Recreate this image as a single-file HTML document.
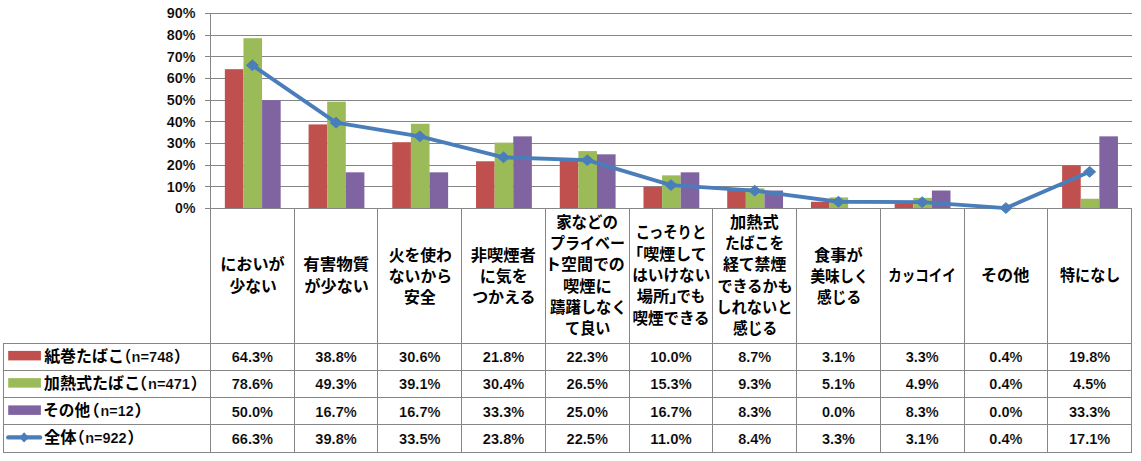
<!DOCTYPE html>
<html lang="ja"><head><meta charset="utf-8"><title>chart</title>
<style>html,body{margin:0;padding:0;background:#fff}body{width:1141px;height:461px;overflow:hidden;font-family:"Liberation Sans",sans-serif}svg{display:block}</style>
</head><body><svg width="1141" height="461" viewBox="0 0 1141 461" role="img" aria-label="chart">
<rect width="1141" height="461" fill="#fff"/>
<g stroke="#868686" stroke-width="1" fill="none" shape-rendering="crispEdges">
<line x1="205.00" y1="208.50" x2="1132.00" y2="208.50"/>
<line x1="205.00" y1="186.83" x2="1132.00" y2="186.83"/>
<line x1="205.00" y1="165.17" x2="1132.00" y2="165.17"/>
<line x1="205.00" y1="143.50" x2="1132.00" y2="143.50"/>
<line x1="205.00" y1="121.83" x2="1132.00" y2="121.83"/>
<line x1="205.00" y1="100.17" x2="1132.00" y2="100.17"/>
<line x1="205.00" y1="78.50" x2="1132.00" y2="78.50"/>
<line x1="205.00" y1="56.83" x2="1132.00" y2="56.83"/>
<line x1="205.00" y1="35.17" x2="1132.00" y2="35.17"/>
<line x1="205.00" y1="13.50" x2="1132.00" y2="13.50"/>
</g>
<g>
<rect x="224.85" y="69.18" width="18.61" height="139.32" fill="#C0504D"/>
<rect x="243.46" y="38.20" width="18.61" height="170.30" fill="#9BBB59"/>
<rect x="262.07" y="100.17" width="18.61" height="108.33" fill="#8064A2"/>
<rect x="308.58" y="124.43" width="18.61" height="84.07" fill="#C0504D"/>
<rect x="327.19" y="101.68" width="18.61" height="106.82" fill="#9BBB59"/>
<rect x="345.79" y="172.32" width="18.61" height="36.18" fill="#8064A2"/>
<rect x="392.31" y="142.20" width="18.61" height="66.30" fill="#C0504D"/>
<rect x="410.92" y="123.78" width="18.61" height="84.72" fill="#9BBB59"/>
<rect x="429.52" y="172.32" width="18.61" height="36.18" fill="#8064A2"/>
<rect x="476.04" y="161.27" width="18.61" height="47.23" fill="#C0504D"/>
<rect x="494.64" y="142.63" width="18.61" height="65.87" fill="#9BBB59"/>
<rect x="513.25" y="136.35" width="18.61" height="72.15" fill="#8064A2"/>
<rect x="559.76" y="160.18" width="18.61" height="48.32" fill="#C0504D"/>
<rect x="578.37" y="151.08" width="18.61" height="57.42" fill="#9BBB59"/>
<rect x="596.98" y="154.33" width="18.61" height="54.17" fill="#8064A2"/>
<rect x="643.49" y="186.83" width="18.61" height="21.67" fill="#C0504D"/>
<rect x="662.10" y="175.35" width="18.61" height="33.15" fill="#9BBB59"/>
<rect x="680.70" y="172.32" width="18.61" height="36.18" fill="#8064A2"/>
<rect x="727.22" y="189.65" width="18.61" height="18.85" fill="#C0504D"/>
<rect x="745.82" y="188.35" width="18.61" height="20.15" fill="#9BBB59"/>
<rect x="764.43" y="190.52" width="18.61" height="17.98" fill="#8064A2"/>
<rect x="810.95" y="201.78" width="18.61" height="6.72" fill="#C0504D"/>
<rect x="829.55" y="197.45" width="18.61" height="11.05" fill="#9BBB59"/>
<rect x="894.67" y="201.35" width="18.61" height="7.15" fill="#C0504D"/>
<rect x="913.28" y="197.88" width="18.61" height="10.62" fill="#9BBB59"/>
<rect x="931.88" y="190.52" width="18.61" height="17.98" fill="#8064A2"/>
<rect x="978.40" y="207.63" width="18.61" height="0.87" fill="#C0504D"/>
<rect x="997.01" y="207.63" width="18.61" height="0.87" fill="#9BBB59"/>
<rect x="1062.13" y="165.60" width="18.61" height="42.90" fill="#C0504D"/>
<rect x="1080.73" y="198.75" width="18.61" height="9.75" fill="#9BBB59"/>
<rect x="1099.34" y="136.35" width="18.61" height="72.15" fill="#8064A2"/>
</g>
<g stroke="#868686" stroke-width="1" fill="none" shape-rendering="crispEdges">
<line x1="210.50" y1="13.00" x2="210.50" y2="452.50"/>
<line x1="294.23" y1="208.50" x2="294.23" y2="452.50"/>
<line x1="377.95" y1="208.50" x2="377.95" y2="452.50"/>
<line x1="461.68" y1="208.50" x2="461.68" y2="452.50"/>
<line x1="545.41" y1="208.50" x2="545.41" y2="452.50"/>
<line x1="629.14" y1="208.50" x2="629.14" y2="452.50"/>
<line x1="712.86" y1="208.50" x2="712.86" y2="452.50"/>
<line x1="796.59" y1="208.50" x2="796.59" y2="452.50"/>
<line x1="880.32" y1="208.50" x2="880.32" y2="452.50"/>
<line x1="964.05" y1="208.50" x2="964.05" y2="452.50"/>
<line x1="1047.77" y1="208.50" x2="1047.77" y2="452.50"/>
<line x1="1131.50" y1="208.50" x2="1131.50" y2="452.50"/>
<line x1="3.5" y1="342.50" x2="3.5" y2="452.50"/>
<line x1="3" y1="343.00" x2="1132.00" y2="343.00"/>
<line x1="3" y1="370.25" x2="1132.00" y2="370.25"/>
<line x1="3" y1="397.50" x2="1132.00" y2="397.50"/>
<line x1="3" y1="424.75" x2="1132.00" y2="424.75"/>
<line x1="3" y1="452.00" x2="1132.00" y2="452.00"/>
<line x1="205.00" y1="208.50" x2="1132.00" y2="208.50"/>
</g>
<polyline points="252.36,65.25 336.09,122.67 419.82,136.32 503.55,157.33 587.27,160.15 671.00,185.07 754.73,190.70 838.45,201.75 922.18,202.18 1005.91,208.03 1089.64,171.85" fill="none" stroke="#4A7EBB" stroke-width="3.8" stroke-linejoin="round" stroke-linecap="round"/>
<path d="M246.36 65.25L252.36 59.85L258.36 65.25L252.36 70.65Z" fill="#4A7EBB" stroke="#4A7EBB" stroke-width="1" stroke-linejoin="round"/>
<path d="M330.09 122.67L336.09 117.27L342.09 122.67L336.09 128.07Z" fill="#4A7EBB" stroke="#4A7EBB" stroke-width="1" stroke-linejoin="round"/>
<path d="M413.82 136.32L419.82 130.92L425.82 136.32L419.82 141.72Z" fill="#4A7EBB" stroke="#4A7EBB" stroke-width="1" stroke-linejoin="round"/>
<path d="M497.55 157.33L503.55 151.93L509.55 157.33L503.55 162.73Z" fill="#4A7EBB" stroke="#4A7EBB" stroke-width="1" stroke-linejoin="round"/>
<path d="M581.27 160.15L587.27 154.75L593.27 160.15L587.27 165.55Z" fill="#4A7EBB" stroke="#4A7EBB" stroke-width="1" stroke-linejoin="round"/>
<path d="M665.00 185.07L671.00 179.67L677.00 185.07L671.00 190.47Z" fill="#4A7EBB" stroke="#4A7EBB" stroke-width="1" stroke-linejoin="round"/>
<path d="M748.73 190.70L754.73 185.30L760.73 190.70L754.73 196.10Z" fill="#4A7EBB" stroke="#4A7EBB" stroke-width="1" stroke-linejoin="round"/>
<path d="M832.45 201.75L838.45 196.35L844.45 201.75L838.45 207.15Z" fill="#4A7EBB" stroke="#4A7EBB" stroke-width="1" stroke-linejoin="round"/>
<path d="M916.18 202.18L922.18 196.78L928.18 202.18L922.18 207.58Z" fill="#4A7EBB" stroke="#4A7EBB" stroke-width="1" stroke-linejoin="round"/>
<path d="M999.91 208.03L1005.91 202.63L1011.91 208.03L1005.91 213.43Z" fill="#4A7EBB" stroke="#4A7EBB" stroke-width="1" stroke-linejoin="round"/>
<path d="M1083.64 171.85L1089.64 166.45L1095.64 171.85L1089.64 177.25Z" fill="#4A7EBB" stroke="#4A7EBB" stroke-width="1" stroke-linejoin="round"/>
<rect x="8.2" y="350.90" width="32.7" height="9.5" fill="#C0504D"/>
<rect x="8.2" y="378.15" width="32.7" height="9.5" fill="#9BBB59"/>
<rect x="8.2" y="405.40" width="32.7" height="9.5" fill="#8064A2"/>
<line x1="8.3" y1="437.40" x2="40.1" y2="437.40" stroke="#4A7EBB" stroke-width="4.4" stroke-linecap="round"/>
<path d="M19.30 437.40L24.10 432.20L28.90 437.40L24.10 442.60Z" fill="#4A7EBB"/>
<g font-family="'Liberation Sans', sans-serif" font-weight="bold" font-size="14.10" fill="#000" stroke="#fff" stroke-width="0.15">
<text x="175.07" y="213.20" textLength="20.33" lengthAdjust="spacingAndGlyphs">0%</text>
<text x="166.73" y="191.53" textLength="28.67" lengthAdjust="spacingAndGlyphs">10%</text>
<text x="166.73" y="169.87" textLength="28.67" lengthAdjust="spacingAndGlyphs">20%</text>
<text x="166.73" y="148.20" textLength="28.67" lengthAdjust="spacingAndGlyphs">30%</text>
<text x="166.73" y="126.53" textLength="28.67" lengthAdjust="spacingAndGlyphs">40%</text>
<text x="166.73" y="104.87" textLength="28.67" lengthAdjust="spacingAndGlyphs">50%</text>
<text x="166.73" y="83.20" textLength="28.67" lengthAdjust="spacingAndGlyphs">60%</text>
<text x="166.73" y="61.53" textLength="28.67" lengthAdjust="spacingAndGlyphs">70%</text>
<text x="166.73" y="39.87" textLength="28.67" lengthAdjust="spacingAndGlyphs">80%</text>
<text x="166.73" y="18.20" textLength="28.67" lengthAdjust="spacingAndGlyphs">90%</text>
<text x="231.67" y="362.00" textLength="41.39" lengthAdjust="spacingAndGlyphs">64.3%</text>
<text x="315.39" y="362.00" textLength="41.39" lengthAdjust="spacingAndGlyphs">38.8%</text>
<text x="399.12" y="362.00" textLength="41.39" lengthAdjust="spacingAndGlyphs">30.6%</text>
<text x="482.85" y="362.00" textLength="41.39" lengthAdjust="spacingAndGlyphs">21.8%</text>
<text x="566.58" y="362.00" textLength="41.39" lengthAdjust="spacingAndGlyphs">22.3%</text>
<text x="650.30" y="362.00" textLength="41.39" lengthAdjust="spacingAndGlyphs">10.0%</text>
<text x="738.20" y="362.00" textLength="33.06" lengthAdjust="spacingAndGlyphs">8.7%</text>
<text x="821.93" y="362.00" textLength="33.06" lengthAdjust="spacingAndGlyphs">3.1%</text>
<text x="905.65" y="362.00" textLength="33.06" lengthAdjust="spacingAndGlyphs">3.3%</text>
<text x="989.38" y="362.00" textLength="33.06" lengthAdjust="spacingAndGlyphs">0.4%</text>
<text x="1068.94" y="362.00" textLength="41.39" lengthAdjust="spacingAndGlyphs">19.8%</text>
<text x="231.67" y="389.25" textLength="41.39" lengthAdjust="spacingAndGlyphs">78.6%</text>
<text x="315.39" y="389.25" textLength="41.39" lengthAdjust="spacingAndGlyphs">49.3%</text>
<text x="399.12" y="389.25" textLength="41.39" lengthAdjust="spacingAndGlyphs">39.1%</text>
<text x="482.85" y="389.25" textLength="41.39" lengthAdjust="spacingAndGlyphs">30.4%</text>
<text x="566.58" y="389.25" textLength="41.39" lengthAdjust="spacingAndGlyphs">26.5%</text>
<text x="650.30" y="389.25" textLength="41.39" lengthAdjust="spacingAndGlyphs">15.3%</text>
<text x="738.20" y="389.25" textLength="33.06" lengthAdjust="spacingAndGlyphs">9.3%</text>
<text x="821.93" y="389.25" textLength="33.06" lengthAdjust="spacingAndGlyphs">5.1%</text>
<text x="905.65" y="389.25" textLength="33.06" lengthAdjust="spacingAndGlyphs">4.9%</text>
<text x="989.38" y="389.25" textLength="33.06" lengthAdjust="spacingAndGlyphs">0.4%</text>
<text x="1073.11" y="389.25" textLength="33.06" lengthAdjust="spacingAndGlyphs">4.5%</text>
<text x="231.67" y="416.50" textLength="41.39" lengthAdjust="spacingAndGlyphs">50.0%</text>
<text x="315.39" y="416.50" textLength="41.39" lengthAdjust="spacingAndGlyphs">16.7%</text>
<text x="399.12" y="416.50" textLength="41.39" lengthAdjust="spacingAndGlyphs">16.7%</text>
<text x="482.85" y="416.50" textLength="41.39" lengthAdjust="spacingAndGlyphs">33.3%</text>
<text x="566.58" y="416.50" textLength="41.39" lengthAdjust="spacingAndGlyphs">25.0%</text>
<text x="650.30" y="416.50" textLength="41.39" lengthAdjust="spacingAndGlyphs">16.7%</text>
<text x="738.20" y="416.50" textLength="33.06" lengthAdjust="spacingAndGlyphs">8.3%</text>
<text x="821.93" y="416.50" textLength="33.06" lengthAdjust="spacingAndGlyphs">0.0%</text>
<text x="905.65" y="416.50" textLength="33.06" lengthAdjust="spacingAndGlyphs">8.3%</text>
<text x="989.38" y="416.50" textLength="33.06" lengthAdjust="spacingAndGlyphs">0.0%</text>
<text x="1068.94" y="416.50" textLength="41.39" lengthAdjust="spacingAndGlyphs">33.3%</text>
<text x="231.67" y="443.75" textLength="41.39" lengthAdjust="spacingAndGlyphs">66.3%</text>
<text x="315.39" y="443.75" textLength="41.39" lengthAdjust="spacingAndGlyphs">39.8%</text>
<text x="399.12" y="443.75" textLength="41.39" lengthAdjust="spacingAndGlyphs">33.5%</text>
<text x="482.85" y="443.75" textLength="41.39" lengthAdjust="spacingAndGlyphs">23.8%</text>
<text x="566.58" y="443.75" textLength="41.39" lengthAdjust="spacingAndGlyphs">22.5%</text>
<text x="650.30" y="443.75" textLength="41.39" lengthAdjust="spacingAndGlyphs">11.0%</text>
<text x="738.20" y="443.75" textLength="33.06" lengthAdjust="spacingAndGlyphs">8.4%</text>
<text x="821.93" y="443.75" textLength="33.06" lengthAdjust="spacingAndGlyphs">3.3%</text>
<text x="905.65" y="443.75" textLength="33.06" lengthAdjust="spacingAndGlyphs">3.1%</text>
<text x="989.38" y="443.75" textLength="33.06" lengthAdjust="spacingAndGlyphs">0.4%</text>
<text x="1068.94" y="443.75" textLength="41.39" lengthAdjust="spacingAndGlyphs">17.1%</text>
<text x="131.60" y="361.60" textLength="41.80" lengthAdjust="spacingAndGlyphs">n=748</text>
<text x="148.10" y="388.85" textLength="41.90" lengthAdjust="spacingAndGlyphs">n=471</text>
<text x="100.60" y="416.10" textLength="33.00" lengthAdjust="spacingAndGlyphs">n=12</text>
<text x="85.20" y="443.35" textLength="41.40" lengthAdjust="spacingAndGlyphs">n=922</text>
</g>
<g fill="#000" font-family="'Liberation Sans', 'Noto Sans CJK JP', sans-serif" font-weight="bold" font-size="16.3">
<g>
<text x="220.15" y="270.29" textLength="64.56" lengthAdjust="spacingAndGlyphs">においが</text>
<text x="229.56" y="291.59" textLength="47.34" lengthAdjust="spacingAndGlyphs">少ない</text>
</g>
<g>
<text x="303.39" y="270.29" textLength="65.92" lengthAdjust="spacingAndGlyphs">有害物質</text>
<text x="304.52" y="291.59" textLength="64.30" lengthAdjust="spacingAndGlyphs">が少ない</text>
</g>
<g>
<text x="388.71" y="260.54" textLength="63.22" lengthAdjust="spacingAndGlyphs">火を使わ</text>
<text x="388.67" y="281.84" textLength="63.53" lengthAdjust="spacingAndGlyphs">ないから</text>
<text x="404.04" y="303.14" textLength="31.73" lengthAdjust="spacingAndGlyphs">安全</text>
</g>
<g>
<text x="470.78" y="260.54" textLength="65.13" lengthAdjust="spacingAndGlyphs">非喫煙者</text>
<text x="479.78" y="281.84" textLength="48.08" lengthAdjust="spacingAndGlyphs">に気を</text>
<text x="472.14" y="303.14" textLength="63.49" lengthAdjust="spacingAndGlyphs">つかえる</text>
</g>
<g>
<text x="556.15" y="227.69" textLength="61.86" lengthAdjust="spacingAndGlyphs">家などの</text>
<text x="550.02" y="248.99" textLength="75.07" lengthAdjust="spacingAndGlyphs">プライベー</text>
<text x="545.01" y="270.29" textLength="79.84" lengthAdjust="spacingAndGlyphs">ト空間での</text>
<text x="563.11" y="291.59" textLength="48.77" lengthAdjust="spacingAndGlyphs">喫煙に</text>
<text x="550.11" y="312.89" textLength="76.63" lengthAdjust="spacingAndGlyphs">躊躇しなく</text>
<text x="565.07" y="334.19" textLength="45.27" lengthAdjust="spacingAndGlyphs">て良い</text>
</g>
<g>
<text x="635.67" y="238.34" textLength="70.54" lengthAdjust="spacingAndGlyphs">こっそりと</text>
<text x="627.37" y="259.64" textLength="79.28" lengthAdjust="spacingAndGlyphs">「喫煙して</text>
<text x="632.13" y="280.94" textLength="78.28" lengthAdjust="spacingAndGlyphs">はいけない</text>
<text x="636.64" y="302.24">場所」</text>
<text x="676.41" y="302.24" textLength="28.74" lengthAdjust="spacingAndGlyphs">でも</text>
<text x="632.41" y="323.54" textLength="77.20" lengthAdjust="spacingAndGlyphs">喫煙できる</text>
</g>
<g>
<text x="729.97" y="227.69" textLength="48.81" lengthAdjust="spacingAndGlyphs">加熱式</text>
<text x="724.88" y="248.99" textLength="59.37" lengthAdjust="spacingAndGlyphs">たばこを</text>
<text x="722.94" y="270.29" textLength="63.37" lengthAdjust="spacingAndGlyphs">経て禁煙</text>
<text x="717.46" y="291.59" textLength="75.26" lengthAdjust="spacingAndGlyphs">できるかも</text>
<text x="716.20" y="312.89" textLength="76.28" lengthAdjust="spacingAndGlyphs">しれないと</text>
<text x="732.96" y="334.19" textLength="44.24" lengthAdjust="spacingAndGlyphs">感じる</text>
</g>
<g>
<text x="814.03" y="260.54" textLength="48.80" lengthAdjust="spacingAndGlyphs">食事が</text>
<text x="810.44" y="281.84" textLength="58.24" lengthAdjust="spacingAndGlyphs">美味しく</text>
<text x="817.06" y="303.14" textLength="44.24" lengthAdjust="spacingAndGlyphs">感じる</text>
</g>
<g>
<text x="888.28" y="280.94" textLength="67.51" lengthAdjust="spacingAndGlyphs">カッコイイ</text>
</g>
<g>
<text x="980.97" y="280.94" textLength="48.34" lengthAdjust="spacingAndGlyphs">その他</text>
</g>
<g>
<text x="1060.02" y="280.94" textLength="60.29" lengthAdjust="spacingAndGlyphs">特になし</text>
</g>
<g font-size="16">
<text x="44.13" y="361.68" textLength="79.89" lengthAdjust="spacingAndGlyphs">紙巻たばこ</text>
<text x="116.66" y="361.68" textLength="14.38" lengthAdjust="spacingAndGlyphs">（</text>
<text x="173.99" y="361.68" textLength="15.75" lengthAdjust="spacingAndGlyphs">）</text>
</g>
<g font-size="16">
<text x="43.88" y="388.93" textLength="96.36" lengthAdjust="spacingAndGlyphs">加熱式たばこ</text>
<text x="131.26" y="388.93" textLength="15.75" lengthAdjust="spacingAndGlyphs">（</text>
<text x="190.69" y="388.93" textLength="15.75" lengthAdjust="spacingAndGlyphs">）</text>
</g>
<g font-size="16">
<text x="43.22" y="416.18" textLength="46.93" lengthAdjust="spacingAndGlyphs">その他</text>
<text x="83.53" y="416.18" textLength="16.10" lengthAdjust="spacingAndGlyphs">（</text>
<text x="134.54" y="416.18" textLength="16.78" lengthAdjust="spacingAndGlyphs">）</text>
</g>
<g font-size="16">
<text x="43.97" y="443.43" textLength="32.62" lengthAdjust="spacingAndGlyphs">全体</text>
<text x="69.28" y="443.43" textLength="15.41" lengthAdjust="spacingAndGlyphs">（</text>
<text x="127.58" y="443.43" textLength="16.10" lengthAdjust="spacingAndGlyphs">）</text>
</g>
</g>
</svg></body></html>
